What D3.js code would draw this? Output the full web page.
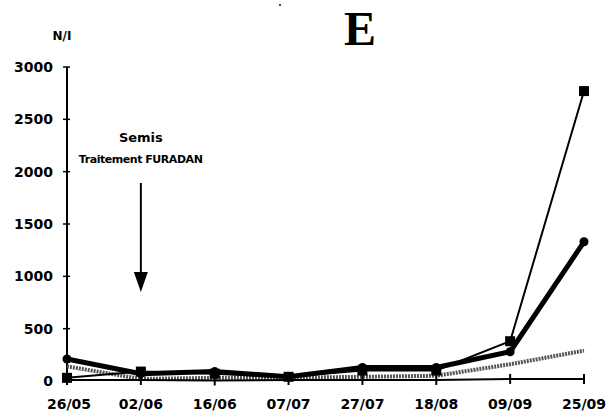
<!DOCTYPE html>
<html>
<head>
<meta charset="utf-8">
<script src="https://cdn.jsdelivr.net/npm/d3@7"></script>
<style>
  body { margin: 0; background: #fff; }
  svg text { font-family: "DejaVu Sans", sans-serif; font-weight: bold; fill: #000; }
</style>
</head>
<body>
<div id="chart"></div>
<script>
const width = 609;
const height = 417;
const margin = {top: 67, right: 25, bottom: 36, left: 67};

const dates = ["26/05", "02/06", "16/06", "07/07", "27/07", "18/08", "09/09", "25/09"];
const yTicks = [0, 500, 1000, 1500, 2000, 2500, 3000];

const squareSeries = [30, 90, 70, 40, 100, 100, 380, 2770];
const thickSeries = [210, 70, 90, 40, 130, 130, 280, 1330];
const greySeries = [140, 20, 30, 30, 40, 50, 160, 290];
const tickSeries = [10, 10, 5, 10, 10, 10, 20, 20];

const svg = d3.select("#chart").append("svg")
    .attr("width", width)
    .attr("height", height);

const x = d3.scalePoint().domain(dates).range([margin.left, width - margin.right]);
const y = d3.scaleLinear().domain([0, 3000]).range([height - margin.bottom, margin.top]);

// y axis
const yAxis = svg.append("g").attr("transform", `translate(${margin.left},0)`);
yAxis.append("line")
    .attr("x1", 0).attr("x2", 0)
    .attr("y1", y(3000)).attr("y2", y(0))
    .attr("stroke", "#000").attr("stroke-width", 2);
yAxis.selectAll("line.tick").data(yTicks).join("line")
    .attr("class", "tick")
    .attr("x1", -4).attr("x2", 3)
    .attr("y1", d => y(d)).attr("y2", d => y(d))
    .attr("stroke", "#000").attr("stroke-width", 1.5);
yAxis.selectAll("text").data(yTicks).join("text")
    .attr("x", -14)
    .attr("y", d => y(d) + 5)
    .attr("text-anchor", "end")
    .style("font-size", "14px")
    .text(d => d);

// x labels
svg.selectAll("text.xlab").data(dates).join("text")
    .attr("class", "xlab")
    .attr("x", (d, i) => x(d) + (i == 0 ? 2 : 0))
    .attr("y", 409)
    .attr("text-anchor", "middle")
    .style("font-size", "14px")
    .text(d => d);

svg.append("text").attr("x", 62).attr("y", 40).attr("text-anchor", "middle")
    .style("font-size", "12px").text("N/I");

svg.append("text").attr("x", 360).attr("y", 45).attr("text-anchor", "middle")
    .style("font-family", "'Liberation Serif', serif")
    .style("font-size", "48px").text("E");

svg.append("circle").attr("cx", 280).attr("cy", 5).attr("r", 1).attr("fill", "#000");

// annotation
const ax = x("02/06");
svg.append("text").attr("x", ax).attr("y", 142).attr("text-anchor", "middle")
    .style("font-size", "13px").text("Semis");
svg.append("text").attr("x", ax).attr("y", 163).attr("text-anchor", "middle")
    .style("font-size", "11px").attr("textLength", 124).text("Traitement FURADAN");
svg.append("line").attr("x1", ax).attr("x2", ax).attr("y1", 183).attr("y2", 275)
    .attr("stroke", "#000").attr("stroke-width", 2);
svg.append("path")
    .attr("d", `M${ax - 7},272 L${ax + 7},272 L${ax},292 Z`)
    .attr("fill", "#000");

const line = d3.line().x((d, i) => x(dates[i])).y(d => y(d));

// grey dotted series
svg.append("path").datum(greySeries)
    .attr("d", line).attr("fill", "none")
    .attr("stroke", "#555").attr("stroke-width", 4)
    .attr("stroke-dasharray", "2,1");

// tick-marker series
svg.append("path").datum(tickSeries)
    .attr("d", line).attr("fill", "none")
    .attr("stroke", "#000").attr("stroke-width", 2);
svg.selectAll("line.tm").data(tickSeries).join("line")
    .attr("class", "tm")
    .attr("x1", (d, i) => x(dates[i])).attr("x2", (d, i) => x(dates[i]))
    .attr("y1", d => y(d) - 5).attr("y2", d => y(d) + 5)
    .attr("stroke", "#000").attr("stroke-width", 2);

// thick series
svg.append("path").datum(thickSeries)
    .attr("d", line).attr("fill", "none")
    .attr("stroke", "#000").attr("stroke-width", 5);
svg.selectAll("circle.th").data(thickSeries).join("circle")
    .attr("class", "th")
    .attr("cx", (d, i) => x(dates[i])).attr("cy", d => y(d))
    .attr("r", 4.5).attr("fill", "#000");

// square series
svg.append("path").datum(squareSeries)
    .attr("d", line).attr("fill", "none")
    .attr("stroke", "#000").attr("stroke-width", 2);
svg.selectAll("rect.sq").data(squareSeries).join("rect")
    .attr("class", "sq")
    .attr("x", (d, i) => x(dates[i]) - 5).attr("y", d => y(d) - 5)
    .attr("width", 10).attr("height", 10).attr("fill", "#000");
</script>
</body>
</html>
